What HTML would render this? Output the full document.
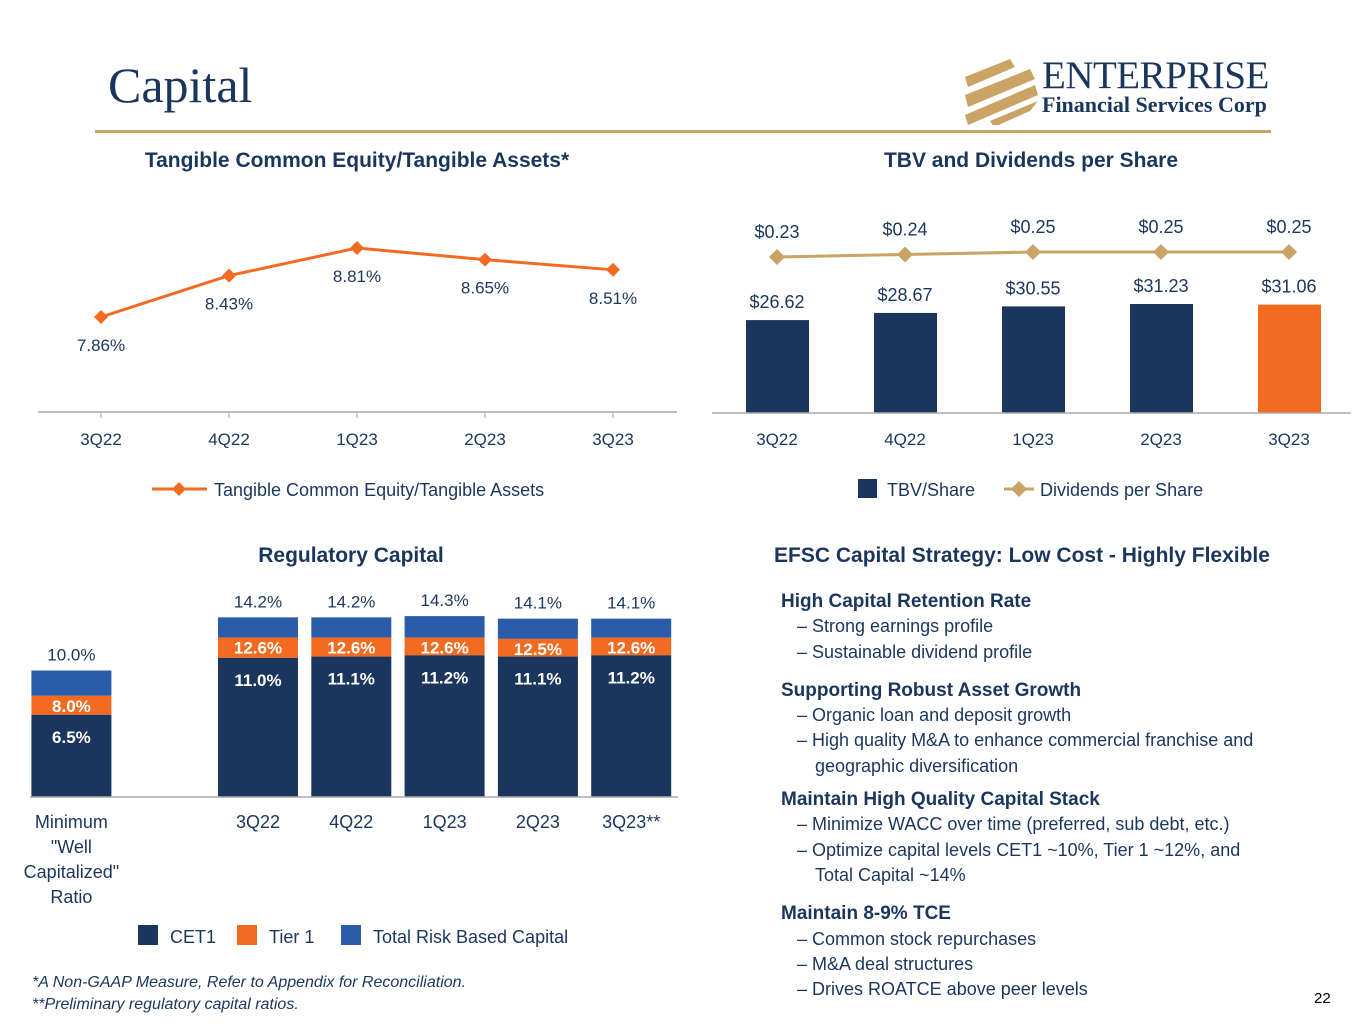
<!DOCTYPE html>
<html><head><meta charset="utf-8"><style>
body{margin:0;width:1365px;height:1024px;background:#fff;font-family:"Liberation Sans",sans-serif;overflow:hidden;position:relative}
.t{position:absolute;color:#1b365d}
svg text{font-family:"Liberation Sans",sans-serif}
.strat{position:absolute;left:781px;top:589px;width:490px;color:#1b365d;font-size:18px;line-height:25.3px}
.strat .h{font-weight:bold;font-size:19px}
.strat .i{padding-left:34px;text-indent:-18px;color:#1b365d}
</style></head><body>
<div class="t" style="left:108px;top:56px;font-family:'Liberation Serif',serif;font-size:50px">Capital</div>
<div style="position:absolute;left:95px;top:130px;width:1176px;height:3px;background:#c9a464"></div>
<div style="position:absolute;left:960px;top:55px;width:320px;height:70px">
<svg width="90" height="70"><g fill="#c9a464"><polygon points="5,22 50,4 55,12 8,32"/><polygon points="5,40 70,14 75,24 8,52"/><polygon points="5,60 75,30 78,40 8,70"/><polygon points="30,66 78,46 70,56 34,72"/></g></svg>
<div style="position:absolute;left:82px;top:-2px;font-family:'Liberation Serif',serif;font-size:39px;color:#1b365d;letter-spacing:-0.5px">ENTERPRISE</div>
<div style="position:absolute;left:82px;top:37px;font-family:'Liberation Serif',serif;font-size:22px;color:#1b365d;font-weight:bold">Financial Services Corp</div>
</div>

<svg id="ch" width="1365" height="1024" style="position:absolute;left:0;top:0"></svg>

<div class="strat">
<div class="h">High Capital Retention Rate</div>
<div class="i">– Strong earnings profile</div>
<div class="i">– Sustainable dividend profile</div>
<div class="h" style="margin-top:13px">Supporting Robust Asset Growth</div>
<div class="i">– Organic loan and deposit growth</div>
<div class="i">– High quality M&amp;A to enhance commercial franchise and geographic diversification</div>
<div class="h" style="margin-top:8px">Maintain High Quality Capital Stack</div>
<div class="i">– Minimize WACC over time (preferred, sub debt, etc.)</div>
<div class="i">– Optimize capital levels CET1 ~10%, Tier 1 ~12%, and Total Capital ~14%</div>
<div class="h" style="margin-top:13px">Maintain 8-9% TCE</div>
<div class="i">– Common stock repurchases</div>
<div class="i">– M&amp;A deal structures</div>
<div class="i">– Drives ROATCE above peer levels</div>
</div>
<div class="t" style="left:32px;top:972px;font-size:16px;font-style:italic;line-height:22px">*A Non-GAAP Measure, Refer to Appendix for Reconciliation.<br>**Preliminary regulatory capital ratios.</div>
<div style="position:absolute;left:1314px;top:990px;font-size:15px;color:#000">22</div>

<script>
const tceCats=["3Q22","4Q22","1Q23","2Q23","3Q23"];
const tceVals=[7.86,8.43,8.81,8.65,8.51];
const tbvCats=["3Q22","4Q22","1Q23","2Q23","3Q23"];
const tbvVals=[26.62,28.67,30.55,31.23,31.06];
const divVals=[0.23,0.24,0.25,0.25,0.25];
const regCats=["Minimum\n\"Well\nCapitalized\"\nRatio","","3Q22","4Q22","1Q23","2Q23","3Q23**"];
const cet1=[6.5,null,11.0,11.1,11.2,11.1,11.2];
const tier1=[8.0,null,12.6,12.6,12.6,12.5,12.6];
const totalCap=[10.0,null,14.2,14.2,14.3,14.1,14.1];

const NS="http://www.w3.org/2000/svg",svg=document.getElementById('ch');
const NAVY="#1b365d",ORANGE="#f26b21",GOLD="#c9a464",BLUE="#2a5caa",TXT="#1b365d";
function el(t,a,txt){const e=document.createElementNS(NS,t);for(const k in a)e.setAttribute(k,a[k]);if(txt!=null)e.textContent=txt;svg.appendChild(e);return e;}
function tx(x,y,s,o){o=o||{};const e=el('text',{x:x,y:y,'font-size':o.fs||17,fill:o.fill||TXT,'text-anchor':o.anchor||'middle','font-weight':o.fw||'normal'},s);return e;}

let e;
e=tx(357,167,"Tangible Common Equity/Tangible Assets*",{fs:21,fw:'bold'});

e=tx(1031,167,"TBV and Dividends per Share",{fs:21,fw:'bold'});

e=tx(351,562,"Regulatory Capital",{fs:21,fw:'bold'});

e=tx(1022,562,"EFSC Capital Strategy: Low Cost - Highly Flexible",{fs:21,fw:'bold'});


const tx1=i=>101+i*128, ty1=v=>317-(v-7.86)*72.6;
e=el('line',{x1:38,x2:677,y1:412,y2:412,stroke:'#aaa','stroke-width':1.5});

tceCats.forEach((c,i)=>{el('line',{x1:tx1(i),x2:tx1(i),y1:412,y2:418,stroke:'#aaa'});
 e=tx(tx1(i),445,c);});
e=el('polyline',{points:tceVals.map((v,i)=>tx1(i)+','+ty1(v)).join(' '),fill:'none',stroke:ORANGE,'stroke-width':3});

tceVals.forEach((v,i)=>{const x=tx1(i),y=ty1(v);
 e=el('polygon',{points:`${x},${y-7} ${x+7},${y} ${x},${y+7} ${x-7},${y}`,fill:ORANGE});
 
 e=tx(x,y+34,v.toFixed(2)+"%");});
e=el('line',{x1:152,x2:207,y1:489,y2:489,stroke:ORANGE,'stroke-width':3});

el('polygon',{points:"179,482 186,489 179,496 172,489",fill:ORANGE});
e=tx(214,496,"Tangible Common Equity/Tangible Assets",{anchor:'start',fs:18});


const bx=i=>777+i*128, by=v=>413-v*3.49, dy=v=>257-(v-0.23)*250;
tbvVals.forEach((v,i)=>{
 e=el('rect',{x:bx(i)-31,y:by(v),width:63,height:413-by(v),fill:i==4?ORANGE:NAVY});
 
 e=tx(bx(i),by(v)-12,"$"+v.toFixed(2),{fs:18});});
e=el('line',{x1:712,x2:1351,y1:413,y2:413,stroke:'#aaa','stroke-width':1.5});

tbvCats.forEach((c,i)=>{e=tx(bx(i),445,c);});
e=el('polyline',{points:divVals.map((v,i)=>bx(i)+','+dy(v)).join(' '),fill:'none',stroke:GOLD,'stroke-width':3});

divVals.forEach((v,i)=>{const x=bx(i),y=dy(v);
 e=el('polygon',{points:`${x},${y-8} ${x+8},${y} ${x},${y+8} ${x-8},${y}`,fill:GOLD});
 
 e=tx(x,y-19,"$"+v.toFixed(2),{fs:18});});
e=el('rect',{x:858,y:479,width:19,height:19,fill:NAVY});

e=tx(887,496,"TBV/Share",{anchor:'start',fs:18});
el('line',{x1:1004,x2:1034,y1:489,y2:489,stroke:GOLD,'stroke-width':3});
e=el('polygon',{points:"1019,481 1027,489 1019,497 1011,489",fill:GOLD});

e=tx(1040,496,"Dividends per Share",{anchor:'start',fs:18});

const rx=i=>71.4+i*93.3, ry=v=>797-v*12.65, bw=80;
regCats.forEach((c,i)=>{
 if(cet1[i]==null)return;const x=rx(i)-bw/2;
 e=el('rect',{x:x,y:ry(totalCap[i]),width:bw,height:ry(tier1[i])-ry(totalCap[i]),fill:BLUE});
 
 e=el('rect',{x:x,y:ry(tier1[i]),width:bw,height:ry(cet1[i])-ry(tier1[i]),fill:ORANGE});
 
 e=el('rect',{x:x,y:ry(cet1[i]),width:bw,height:797-ry(cet1[i]),fill:NAVY});
 
 e=tx(rx(i),ry(totalCap[i])-10,totalCap[i].toFixed(1)+"%");
 e=tx(rx(i),ry(tier1[i])+16,tier1[i].toFixed(1)+"%",{fill:'#fff',fw:'bold'});
 e=tx(rx(i),ry(cet1[i])+28,cet1[i].toFixed(1)+"%",{fill:'#fff',fw:'bold'});
});
e=el('line',{x1:30,x2:678,y1:797,y2:797,stroke:'#aaa','stroke-width':1.5});

regCats.forEach((c,i)=>{c.split("\n").forEach((ln,j)=>{e=tx(rx(i),828+j*25,ln,{fs:18});});});
[[138,"CET1",NAVY,'cet1-legend-entry'],[237,"Tier 1",ORANGE,'tier1-legend-entry'],[341,"Total Risk Based Capital",BLUE,'total-capital-legend-entry']].forEach(([x,l,c,n])=>{
 e=el('rect',{x:x,y:925,width:20,height:20,fill:c});
 e=tx(x+32,943,l,{anchor:'start',fs:18});});
</script>
</body></html>
